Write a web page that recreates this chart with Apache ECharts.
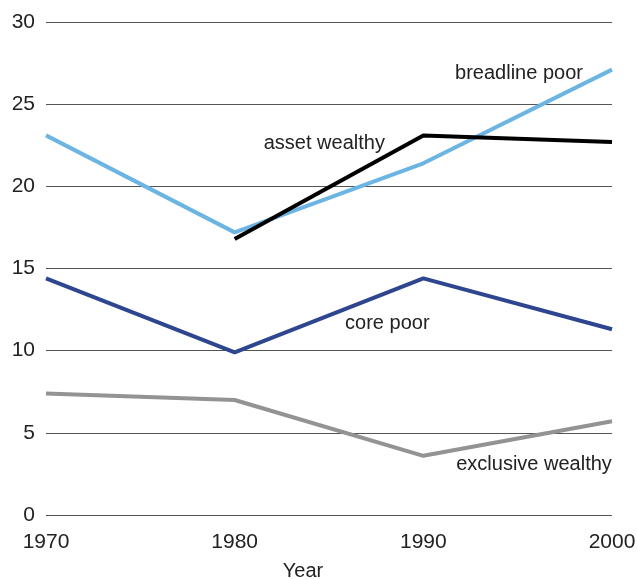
<!DOCTYPE html>
<html>
<head>
<meta charset="utf-8">
<script src="https://cdn.jsdelivr.net/npm/echarts@6/dist/echarts.min.js"></script>
<style>html,body{margin:0;padding:0;background:#fff}#c{width:637px;height:579px}</style>
</head>
<body>
<div id="c"></div>
<script>
const years = ['1970', '1980', '1990', '2000'];
const breadlinePoor = [23.1, 17.2, 21.4, 27.1];
const assetWealthy = [null, 16.8, 23.1, 22.7];
const corePoor = [14.4, 9.9, 14.4, 11.3];
const exclusiveWealthy = [7.4, 7.0, 3.6, 5.7];
const yTicks = [0, 5, 10, 15, 20, 25, 30];

const labelFont = { fontFamily: 'Liberation Sans, Arial, sans-serif', fontSize: 20, color: '#222' };

function withLabel(values, idx, text, offset) {
  return values.map((v, i) => {
    if (i !== idx) return v;
    return {
      value: v,
      label: Object.assign({ show: true, position: 'inside', align: 'center', verticalAlign: 'middle', offset: offset, formatter: text }, labelFont)
    };
  });
}

function lineSeries(name, data, color) {
  return {
    name: name, type: 'line', data: data,
    symbol: 'circle', symbolSize: 0, showSymbol: true,
    itemStyle: { color: color },
    lineStyle: { color: color, width: 4 },
    silent: true, animation: false, connectNulls: false
  };
}

const chart = echarts.init(document.getElementById('c'), null, { renderer: 'canvas' });
chart.setOption({
  animation: false,
  grid: { left: 46, right: 25, top: 22, bottom: 64, outerBoundsMode: 'none' },
  xAxis: {
    type: 'category', data: years, boundaryGap: false,
    axisLine: { show: false }, axisTick: { show: false },
    axisLabel: { margin: 17, fontSize: 21, color: '#222', fontFamily: 'Liberation Sans, Arial, sans-serif' },
    name: 'Year', nameLocation: 'middle', nameGap: 46,
    nameTextStyle: { fontSize: 20, color: '#222', fontFamily: 'Liberation Sans, Arial, sans-serif', padding: [0, 52, 0, 0] }
  },
  yAxis: {
    type: 'value', min: yTicks[0], max: yTicks[yTicks.length - 1], interval: 5,
    axisLine: { show: false }, axisTick: { show: false },
    axisLabel: { margin: 11, fontSize: 21, color: '#222', fontFamily: 'Liberation Sans, Arial, sans-serif' },
    splitLine: { lineStyle: { color: '#555', width: 1 } }
  },
  series: [
    lineSeries('exclusive wealthy', withLabel(exclusiveWealthy, 3, 'exclusive wealthy', [-78, 43]), '#939393'),
    lineSeries('core poor', withLabel(corePoor, 2, 'core poor', [-36, 45]), '#2e4590'),
    lineSeries('breadline poor', withLabel(breadlinePoor, 3, 'breadline poor', [-93, 4]), '#6cb5e3'),
    lineSeries('asset wealthy', withLabel(assetWealthy, 2, 'asset wealthy', [-99, 8]), '#000000')
  ]
});
</script>
</body>
</html>
